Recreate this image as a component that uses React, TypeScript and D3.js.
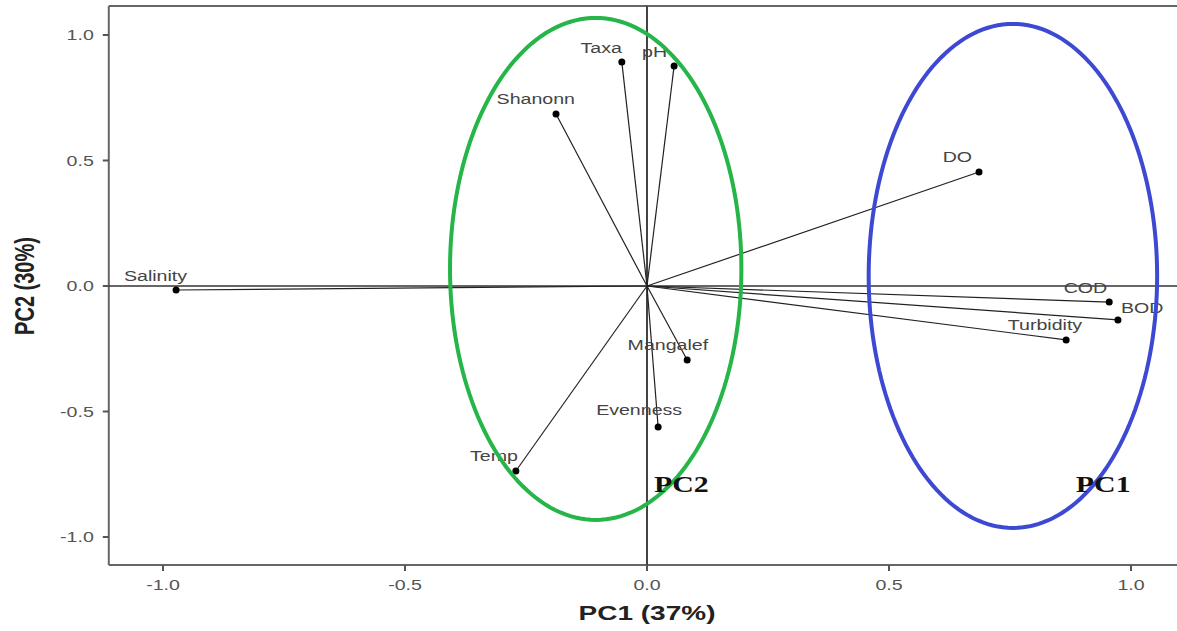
import React from "react";
import * as d3 from "d3";

// loadings
const variables = ["Salinity", "Taxa", "pH", "Shanonn", "DO", "COD", "BOD", "Turbidity", "Mangalef", "Evenness", "Temp"];
const pc1 = [-0.973, -0.052, 0.056, -0.188, 0.686, 0.955, 0.973, 0.866, 0.083, 0.023, -0.271];
const pc2 = [-0.016, 0.892, 0.876, 0.685, 0.454, -0.064, -0.135, -0.215, -0.295, -0.562, -0.737];

const tickValues = [-1.0, -0.5, 0.0, 0.5, 1.0];

// grouping ellipses (centre and radii in PC units)
const groupNames = ["PC2", "PC1"];
const groupCx = [-0.106, 0.756];
const groupCy = [0.068, 0.04];
const groupRx = [0.301, 0.298];
const groupRy = [1.0, 1.004];
const groupLabelX = [0.0145, 0.886];
const groupLabelY = [-0.821, -0.821];

// label placement relative to each point (px)
const labelOffset: Record<string, [number, number, string]> = {
  Salinity: [11, -9, "end"],
  Taxa: [0, -9, "end"],
  pH: [-7, -9, "end"],
  Shanonn: [19, -10, "end"],
  DO: [-7, -10, "end"],
  COD: [-2, -9, "end"],
  BOD: [3, -7, "start"],
  Turbidity: [16, -10, "end"],
  Mangalef: [21, -10, "end"],
  Evenness: [24, -12, "end"],
  Temp: [2, -10, "end"],
};

const W = 1177;
const H = 631;
const SX = 1.4; // the picture is stretched sideways
const FONT = "Arial, 'Liberation Sans', sans-serif";

const x = d3.scaleLinear().domain([-1, 1]).range([163, 1131]);
const y = d3.scaleLinear().domain([-1, 1]).range([537, 35]);
const fmt = (v: number) => v.toFixed(1);

const xLeft = x(-1.112);
const yTop = y(1.116);
const yBottom = y(-1.112);

const T = ({ x: tx, y: ty, anchor = "start", size = 14, weight = "normal", fill = "#444", family = FONT, sx = SX, rotate = 0, children }: any) => (
  <g transform={`translate(${tx},${ty}) scale(${sx},1) rotate(${rotate})`}>
    <text textAnchor={anchor} fontSize={size} fontWeight={weight} fill={fill} fontFamily={family}>
      {children}
    </text>
  </g>
);

export default function App() {
  const ellipse = (i: number) =>
    d3.range(0, 361, 2).map((a) => {
      const t = (a * Math.PI) / 180;
      return [x(groupCx[i] + groupRx[i] * Math.cos(t)), y(groupCy[i] + groupRy[i] * Math.sin(t))] as [number, number];
    });
  const line = d3.line();
  const ellipseColors = ["#25b548", "#3d49d2"];

  return (
    <svg width={W} height={H} style={{ position: "absolute", left: 0, top: 0, background: "#fff" }}>
      {/* frame */}
      <g stroke="#666" strokeWidth={2} fill="none">
        <line x1={xLeft} x2={W + 5} y1={yTop} y2={yTop} />
        <line x1={xLeft} x2={xLeft} y1={yTop} y2={yBottom} />
        <line x1={xLeft} x2={W + 5} y1={yBottom} y2={yBottom} />
      </g>

      {/* y ticks */}
      {tickValues.map((v) => (
        <g key={"y" + v}>
          <line x1={xLeft - 6} x2={xLeft} y1={y(v)} y2={y(v)} stroke="#555" strokeWidth={2} />
          <T x={xLeft - 15} y={y(v) + 5} anchor="end" fill="#555">
            {fmt(v)}
          </T>
        </g>
      ))}
      {/* x ticks */}
      {tickValues.map((v) => (
        <g key={"x" + v}>
          <line x1={x(v)} x2={x(v)} y1={yBottom} y2={yBottom + 6} stroke="#555" strokeWidth={2} />
          <T x={x(v)} y={yBottom + 25} anchor="middle" fill="#555">
            {fmt(v)}
          </T>
        </g>
      ))}

      {/* axis titles */}
      <T x={x(0)} y={620} anchor="middle" size={20} weight="bold" fill="#222">
        PC1 (37%)
      </T>
      <T x={34} y={y(0)} anchor="middle" size={20} weight="bold" fill="#222" rotate={-90}>
        PC2 (30%)
      </T>

      {/* reference lines */}
      <line x1={xLeft} x2={W} y1={y(0)} y2={y(0)} stroke="#333" strokeWidth={1.5} />
      <line x1={x(0)} x2={x(0)} y1={yTop} y2={yBottom} stroke="#444" strokeWidth={2} />

      {/* loading vectors */}
      {variables.map((v, i) => (
        <line key={"l" + v} x1={x(0)} y1={y(0)} x2={x(pc1[i])} y2={y(pc2[i])} stroke="#222" strokeWidth={1.2} />
      ))}
      {variables.map((v, i) => (
        <circle key={"c" + v} cx={x(pc1[i])} cy={y(pc2[i])} r={3.5} fill="#000" />
      ))}
      {variables.map((v, i) => {
        const [dx, dy, anchor] = labelOffset[v];
        return (
          <T key={"t" + v} x={x(pc1[i]) + dx} y={y(pc2[i]) + dy} anchor={anchor} fill="#444">
            {v}
          </T>
        );
      })}

      {/* group ellipses */}
      {groupNames.map((g, i) => (
        <path key={"e" + g} d={line(ellipse(i)) ?? ""} fill="none" stroke={ellipseColors[i]} strokeWidth={4} />
      ))}
      {groupNames.map((g, i) => (
        <T
          key={"g" + g}
          x={x(groupLabelX[i])}
          y={y(groupLabelY[i])}
          size={23}
          weight="bold"
          fill="#111"
          family="'Liberation Serif', 'Times New Roman', serif"
          sx={1.3}
        >
          {g}
        </T>
      ))}
    </svg>
  );
}
